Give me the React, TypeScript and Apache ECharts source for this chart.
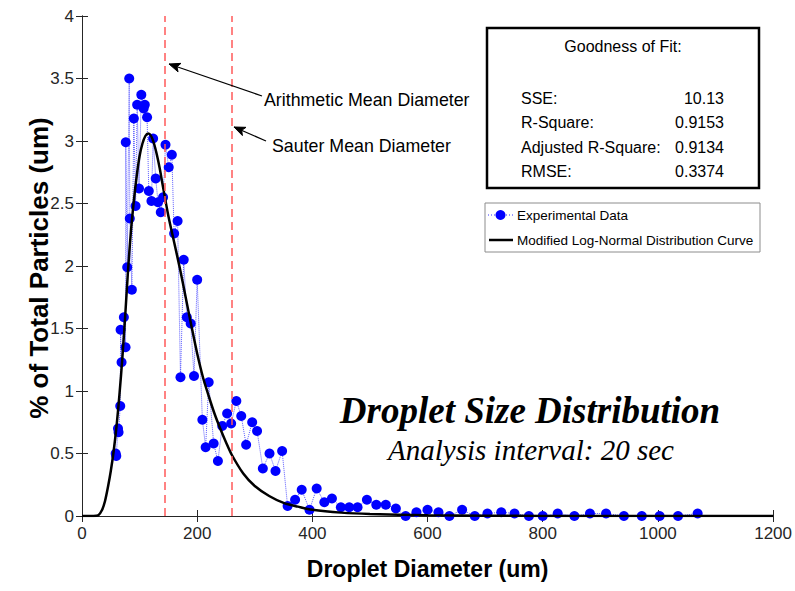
import React, { useEffect, useRef } from "react";
import * as echarts from "echarts";

// Experimental data: droplet diameter (um) and % of total particles
const expDiameter = [
  58.5, 59.5, 62.5, 63.5, 66.4, 67, 68.7, 72.7, 75.6, 76, 78.5, 82, 83, 86.6, 90, 93, 95.8, 99, 103, 107,
  109, 113, 116, 120.6, 123.5, 128, 132, 136.8, 140.8, 145, 150.6, 156, 160, 166, 171, 176.6, 182, 188.7,
  194.5, 200, 209, 214.7, 220, 228.6, 236, 243.5, 252, 259, 268, 276.5, 285, 295.5, 304, 314, 325.6, 336,
  347.5, 357, 370, 381.5, 395, 407.5, 420.8, 434, 449.5, 464, 478.5, 494.7, 511, 527.5, 545, 562, 580.7,
  600, 619, 638, 660, 682, 704, 728, 751, 776, 800, 826, 855, 882, 910, 941, 972, 1003, 1035, 1069,
];
const expPercent = [
  0.5, 0.48, 0.7, 0.67, 0.88, 1.49, 1.23, 1.59, 1.35, 2.99, 1.99, 3.5, 2.38, 1.81, 3.18, 2.48, 3.29, 2.62, 3.37, 3.26,
  3.29, 3.19, 2.6, 2.52, 3.02, 2.7, 2.51, 2.43, 2.55, 2.97, 2.79, 2.89, 2.26, 2.36, 1.11, 2.05, 1.59, 1.54,
  1.12, 1.89, 0.77, 0.55, 1.07, 0.58, 0.44, 0.72, 0.82, 0.74, 0.92, 0.8, 0.57, 0.75, 0.68, 0.38, 0.5, 0.36,
  0.52, 0.08, 0.13, 0.21, 0.05, 0.22, 0.11, 0.14, 0.07, 0.07, 0.07, 0.13, 0.09, 0.09, 0.06, 0.0, 0.03,
  0.05, 0.03, 0.0, 0.05, 0.0, 0.02, 0.03, 0.02, 0.0, 0.0, 0.02, 0.0, 0.02, 0.02, 0.0, 0.0, 0.0, 0.0, 0.02,
];

// Fitted curve
const fitDiameter = [
  0, 20, 28, 35, 40, 45, 50, 55, 60, 65, 70, 75, 80, 85, 90, 95, 100, 105, 110, 115, 120, 125, 130, 135, 140,
  150, 160, 170, 180, 190, 200, 210, 220, 230, 240, 250, 260, 280, 300, 325, 350, 375, 400, 450, 500, 600,
  700, 800, 1000, 1200,
];
const fitPercent = [
  0, 0, 0.005, 0.05, 0.12, 0.23, 0.36, 0.52, 0.72, 0.97, 1.26, 1.6, 1.97, 2.28, 2.52, 2.72, 2.88, 2.98, 3.04,
  3.06, 3.04, 2.98, 2.89, 2.78, 2.65, 2.4, 2.19, 1.98, 1.75, 1.52, 1.3, 1.11, 0.96, 0.82, 0.7, 0.59, 0.49,
  0.34, 0.24, 0.16, 0.105, 0.075, 0.05, 0.027, 0.016, 0.007, 0.003, 0.001, 0, 0,
];

const arithmeticMean = 143;
const sauterMean = 260;

const xTicks = { min: 0, max: 1200, interval: 200 };
const yTicks = { min: 0, max: 4, interval: 0.5 };

const fitStats = [
  ["SSE:", "10.13"],
  ["R-Square:", "0.9153"],
  ["Adjusted R-Square:", "0.9134"],
  ["RMSE:", "0.3374"],
];

const legendNames = ["Experimental Data", "Modified Log-Normal Distribution Curve"];
const yTitle = "% of Total Particles (um)";

const FONT = "Liberation Sans, Arial, sans-serif";
const SERIF = "Liberation Serif, Times New Roman, serif";

function arrow(x1: number, y1: number, x2: number, y2: number) {
  const dx = x1 - x2;
  const dy = y1 - y2;
  const a = Math.atan2(dy, dx);
  const L = 12;
  const s = (22 * Math.PI) / 180;
  return [
    { type: "line", shape: { x1, y1, x2, y2 }, style: { stroke: "#000", lineWidth: 1.2 }, z: 11 },
    {
      type: "polygon",
      shape: {
        points: [
          [x2 + L * Math.cos(a + s), y2 + L * Math.sin(a + s)],
          [x2, y2],
          [x2 + L * Math.cos(a - s), y2 + L * Math.sin(a - s)],
          [x2 + L * 0.7 * Math.cos(a), y2 + L * 0.7 * Math.sin(a)],
        ],
      },
      style: { fill: "#000", stroke: "#000", lineWidth: 1 },
      z: 11,
    },
  ];
}

export default function App() {
  const ref = useRef<HTMLDivElement>(null);
  useEffect(() => {
    document.body.style.margin = "0";
    if (!ref.current) return;
    const chart = echarts.init(ref.current, undefined, { renderer: "svg" });
    const expData = expDiameter.map((d, i) => [d, expPercent[i]]);
    const fitData = fitDiameter.map((d, i) => [d, fitPercent[i]]);

    const axisCommon = {
      type: "value" as const,
      splitLine: { show: false },
      axisLine: { show: true, lineStyle: { color: "#262626", width: 1 } },
      axisTick: { show: true, inside: true, length: 6, lineStyle: { color: "#262626" } },
    };

    const graphics: any[] = [
      {
        type: "text",
        x: 39,
        y: 268,
        rotation: Math.PI / 2,
        style: {
          text: yTitle,
          font: `bold 26px ${FONT}`,
          fill: "#000",
          align: "center",
          verticalAlign: "middle",
        },
        z: 11,
      },
      {
        type: "rect",
        shape: { x: 487, y: 28, width: 272, height: 160 },
        style: { fill: "#fff", stroke: "#000", lineWidth: 2.5 },
        z: 10,
      },
      {
        type: "text",
        x: 623,
        y: 46,
        style: { text: "Goodness of Fit:", font: `16px ${FONT}`, fill: "#000", align: "center", verticalAlign: "middle" },
        z: 11,
      },
      ...fitStats.flatMap(([k, v], i) => [
        {
          type: "text",
          x: 521,
          y: 98 + i * 24.5,
          style: { text: k, font: `16px ${FONT}`, fill: "#000", align: "left", verticalAlign: "middle" },
          z: 11,
        },
        {
          type: "text",
          x: 724,
          y: 98 + i * 24.5,
          style: { text: v, font: `16px ${FONT}`, fill: "#000", align: "right", verticalAlign: "middle" },
          z: 11,
        },
      ]),
      // legend
      {
        type: "rect",
        shape: { x: 485, y: 203, width: 275, height: 49 },
        style: { fill: "#fff", stroke: "#8c8c8c", lineWidth: 1 },
        z: 10,
      },
      {
        type: "line",
        shape: { x1: 488, y1: 215, x2: 513, y2: 215 },
        style: { stroke: "#3333ff", lineWidth: 1, lineDash: [1, 2] },
        z: 11,
      },
      { type: "circle", shape: { cx: 500.5, cy: 215, r: 5 }, style: { fill: "#0000ff" }, z: 12 },
      {
        type: "text",
        x: 517,
        y: 215,
        style: { text: legendNames[0], font: `13.5px ${FONT}`, fill: "#000", verticalAlign: "middle" },
        z: 11,
      },
      {
        type: "line",
        shape: { x1: 489, y1: 240, x2: 513, y2: 240 },
        style: { stroke: "#000", lineWidth: 2.5 },
        z: 11,
      },
      {
        type: "text",
        x: 517,
        y: 240,
        style: { text: legendNames[1], font: `13.5px ${FONT}`, fill: "#000", verticalAlign: "middle" },
        z: 11,
      },
      // annotations
      {
        type: "text",
        x: 264,
        y: 100,
        style: { text: "Arithmetic Mean Diameter", font: `17.8px ${FONT}`, fill: "#000", verticalAlign: "middle" },
        z: 11,
      },
      {
        type: "text",
        x: 272,
        y: 146,
        style: { text: "Sauter Mean Diameter", font: `17.8px ${FONT}`, fill: "#000", verticalAlign: "middle" },
        z: 11,
      },
      ...arrow(262, 96, 169, 64),
      ...arrow(266, 141, 234, 127),
      {
        type: "text",
        x: 530,
        y: 410,
        style: {
          text: "Droplet Size Distribution",
          font: `italic bold 37px ${SERIF}`,
          fill: "#000",
          align: "center",
          verticalAlign: "middle",
        },
        z: 11,
      },
      {
        type: "text",
        x: 531,
        y: 450,
        style: {
          text: "Analysis interval: 20 sec",
          font: `italic 29px ${SERIF}`,
          fill: "#000",
          align: "center",
          verticalAlign: "middle",
        },
        z: 11,
      },
    ];

    chart.setOption({
      animation: false,
      backgroundColor: "#fff",
      grid: { left: 82, right: 20, top: 16, bottom: 75, containLabel: false },
      xAxis: [
        {
          ...axisCommon,
          position: "bottom",
          ...xTicks,
          axisLabel: {
            fontSize: 17,
            color: "#262626",
            fontFamily: FONT,
            margin: 9,
            formatter: (v: number) => String(v),
          },
          name: "Droplet Diameter (um)",
          nameLocation: "middle",
          nameGap: 41,
          nameTextStyle: { fontSize: 23, fontWeight: "bold", color: "#000", fontFamily: FONT },
        },
        { ...axisCommon, position: "top", ...xTicks, axisLabel: { show: false } },
      ],
      yAxis: [
        {
          ...axisCommon,
          position: "left",
          ...yTicks,
          axisLabel: { fontSize: 17, color: "#262626", fontFamily: FONT, margin: 8 },
        },
        { ...axisCommon, position: "right", ...yTicks, axisLabel: { show: false } },
      ],
      series: [
        {
          name: legendNames[1],
          type: "line",
          data: fitData,
          smooth: 0.3,
          symbol: "none",
          showSymbol: false,
          lineStyle: { color: "#000", width: 2.5 },
          itemStyle: { color: "#000" },
          z: 3,
          markLine: {
            silent: true,
            symbol: ["none", "none"],
            label: { show: false },
            lineStyle: { color: "#ff5a5a", type: [8, 5], width: 1.5 },
            data: [{ xAxis: arithmeticMean }, { xAxis: sauterMean }],
          },
        },
        {
          name: legendNames[0],
          type: "line",
          data: expData,
          symbol: "circle",
          symbolSize: 10,
          itemStyle: { color: "#0000ff" },
          lineStyle: { color: "#3333ff", width: 1, type: "dotted", opacity: 0.8 },
          z: 2,
        },
      ],
      graphic: graphics,
    });
    return () => chart.dispose();
  }, []);
  return <div ref={ref} style={{ width: 795, height: 591 }} />;
}
